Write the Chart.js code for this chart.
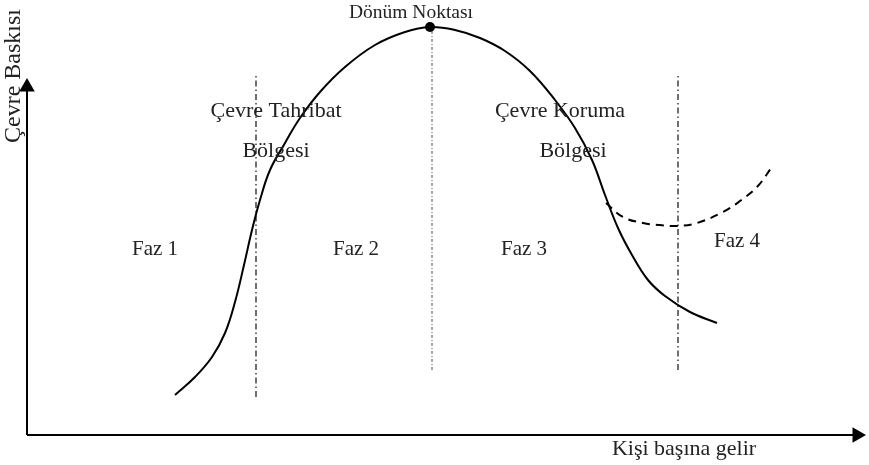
<!DOCTYPE html>
<html lang="tr">
<head>
    <meta charset="UTF-8">
    <title>Çevresel Kuznets Eğrisi</title>
    <script src="https://cdn.jsdelivr.net/npm/chart.js@4/dist/chart.umd.min.js"></script>
    <style>
        html, body { margin: 0; padding: 0; background: #fff; }
        #wrap { width: 869px; height: 465px; position: relative; }
    </style>
</head>
<body>
    <div id="wrap"><canvas id="ekc"></canvas></div>

    <script>
        // income (x) and environmental pressure (y), arbitrary units
        const curveIncome   = [175, 195, 212, 225, 235, 244, 252, 260, 270, 285, 300, 320, 345, 375, 405, 430, 455, 480, 505, 530, 555, 575, 592, 605, 618, 632, 648, 665, 690, 717];
        const curvePressure = [70, 88, 108, 132, 163, 200, 235, 265, 295, 322, 347, 373, 398, 420, 433, 438, 435, 427, 414, 394, 365, 337, 305, 270, 237, 210, 185, 169, 153, 142];

        const phase4Income   = [606, 623, 643, 660, 677, 697, 723, 740, 757, 772];
        const phase4Pressure = [262, 248, 242, 240, 239, 242, 253, 264, 278, 298];

        const turningPoint = { income: 430, pressure: 438 };

        // phase borders: [income, bottom, top]
        const borders = [
            [256, 68, 390],
            [432, 95, 438],
            [678, 95, 390]
        ];

        const axisOrigin = { income: 27, pressure: 30 };
        const axisEnd = { income: 857, pressure: 378 };

        // x = centre, y = baseline
        const labels = [
            { text: 'Dönüm Noktası', x: 411, y: 447, size: 19.5 },
            { text: 'Çevre Tahribat', x: 276, y: 348, size: 22 },
            { text: 'Bölgesi', x: 276, y: 308, size: 22 },
            { text: 'Çevre Koruma', x: 560, y: 348, size: 22 },
            { text: 'Bölgesi', x: 573, y: 308, size: 22 },
            { text: 'Faz 1', x: 155, y: 210, size: 21 },
            { text: 'Faz 2', x: 356, y: 210, size: 21 },
            { text: 'Faz 3', x: 524, y: 210, size: 21 },
            { text: 'Faz 4', x: 737, y: 218, size: 21 },
            { text: 'Kişi başına gelir', x: 684, y: 10, size: 22 }
        ];
        const yTitle = { text: 'Çevre Baskısı', x: 14, y: 389, size: 24 };

        const zip = (xs, ys) => xs.map((x, i) => ({ x: x, y: ys[i] }));

        const datasets = [
            {
                data: zip(curveIncome, curvePressure),
                borderColor: '#000', borderWidth: 2,
                tension: 0.4, pointRadius: 0
            },
            {
                data: zip(phase4Income, phase4Pressure),
                borderColor: '#000', borderWidth: 2, borderDash: [8, 6],
                tension: 0.4, pointRadius: 0
            },
            {
                data: [{ x: turningPoint.income, y: turningPoint.pressure }],
                showLine: false, pointRadius: 5, pointBackgroundColor: '#000', pointBorderWidth: 0
            },
            {
                data: [{ x: axisOrigin.income, y: axisOrigin.pressure }, { x: axisOrigin.income, y: axisEnd.pressure }],
                borderColor: '#000', borderWidth: 2,
                pointRadius: [0, 9], pointStyle: 'triangle', pointRotation: 0,
                pointBackgroundColor: '#000', pointBorderWidth: 0
            },
            {
                data: [{ x: axisOrigin.income, y: axisOrigin.pressure }, { x: axisEnd.income, y: axisOrigin.pressure }],
                borderColor: '#000', borderWidth: 2,
                pointRadius: [0, 9], pointStyle: 'triangle', pointRotation: 90,
                pointBackgroundColor: '#000', pointBorderWidth: 0
            }
        ];

        borders.forEach((b, i) => {
            datasets.push({
                data: [{ x: b[0], y: b[1] }, { x: b[0], y: b[2] }],
                borderColor: i === 1 ? '#777' : '#222',
                borderWidth: 1.3,
                borderDash: i === 1 ? [3, 2, 1, 2] : [6, 3, 1.5, 3],
                pointRadius: 0
            });
        });

        const textPlugin = {
            id: 'texts',
            afterDatasetsDraw(chart) {
                const ctx = chart.ctx;
                const sx = chart.scales.x, sy = chart.scales.y;
                ctx.save();
                ctx.fillStyle = '#222';
                ctx.textAlign = 'center';
                ctx.textBaseline = 'alphabetic';
                labels.forEach(l => {
                    ctx.font = l.size + 'px "Liberation Serif"';
                    ctx.fillText(l.text, sx.getPixelForValue(l.x), sy.getPixelForValue(l.y));
                });
                ctx.textBaseline = 'middle';
                ctx.translate(sx.getPixelForValue(yTitle.x), sy.getPixelForValue(yTitle.y));
                ctx.rotate(-Math.PI / 2);
                ctx.font = yTitle.size + 'px "Liberation Serif"';
                ctx.fillText(yTitle.text, 0, 0);
                ctx.restore();
            }
        };

        new Chart('ekc', {
            type: 'scatter',
            data: { datasets: datasets },
            options: {
                responsive: true,
                maintainAspectRatio: false,
                animation: false,
                showLine: true,
                layout: { padding: 0, autoPadding: false },
                plugins: { legend: { display: false }, tooltip: { enabled: false } },
                scales: {
                    x: { type: 'linear', min: 0, max: 869, display: false },
                    y: { type: 'linear', min: 0, max: 465, display: false }
                }
            },
            plugins: [textPlugin]
        });
    </script>
</body>
</html>
